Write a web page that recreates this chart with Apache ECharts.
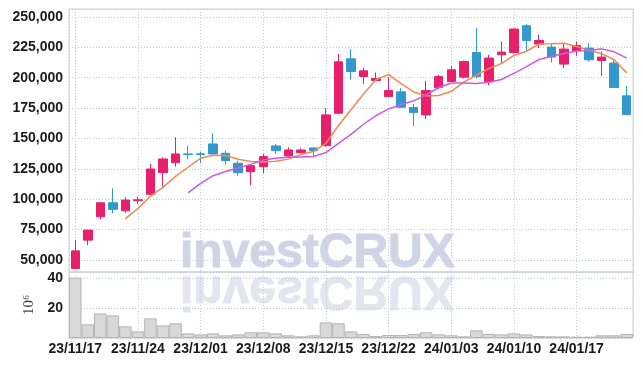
<!DOCTYPE html>
<html><head><meta charset="utf-8">
<script src="https://cdn.jsdelivr.net/npm/echarts@6/dist/echarts.min.js"></script>
<style>html,body{margin:0;padding:0;background:#fff}#c{width:643px;height:366px}</style>
</head><body><div id="c"></div>
<script>
const dates=['23/11/17','23/11/20','23/11/21','23/11/22','23/11/23','23/11/24','23/11/27','23/11/28','23/11/29','23/11/30','23/12/01','23/12/04','23/12/05','23/12/06','23/12/07','23/12/08','23/12/11','23/12/12','23/12/13','23/12/14','23/12/15','23/12/18','23/12/19','23/12/20','23/12/21','23/12/22','23/12/26','23/12/27','23/12/28','24/01/02','24/01/03','24/01/04','24/01/05','24/01/08','24/01/09','24/01/10','24/01/11','24/01/12','24/01/15','24/01/16','24/01/17','24/01/18','24/01/19','24/01/22','24/01/23'];
const openP=[42900,66250,85480,97030,90430,98800,103960,121780,130030,137200,137300,145460,137790,129540,122600,126730,143810,135560,138280,142160,144060,170790,215590,200990,197690,184490,188370,175410,169390,191910,196860,200490,220790,196620,218890,220790,242820,227720,225250,211220,222440,224420,214190,212050,185070];
const closeP=[57400,74500,97030,91580,99250,99500,124830,133080,137210,136800,136700,137210,131680,121780,127550,135020,139930,140510,140510,139930,169390,213120,205120,205690,199340,189440,175740,171280,189440,200990,206520,213370,200990,216170,221120,240100,230690,230690,217000,223600,226570,214770,217000,191910,169630];
const lowP=[42500,62130,83330,88280,88780,95950,103960,110230,126730,132840,129540,136500,128380,119300,111630,121290,137210,134490,137800,135560,143230,169960,198270,194970,197190,184000,175000,160310,165840,190500,196000,199340,199340,193890,212050,219720,221620,224420,212550,207920,218070,213370,201570,191500,169000];
const highP=[66250,74500,97030,108910,101480,101980,128960,134490,150990,144060,139100,154290,139930,131680,128710,137210,145460,142740,141910,143000,174920,219470,223600,208410,204290,200490,191420,178460,197440,202390,209820,214190,240920,218890,229870,240500,244220,235400,228550,227970,229870,228550,221620,214190,193320];
const volume=[40.3,9.1,16.4,15.1,7.8,4.4,13.1,8.4,9.8,3.1,2.4,3.1,1.8,2.4,3.8,3.8,3.1,1.8,1.1,1.8,10.4,9.8,4.4,2.7,1.3,2.0,2.0,2.7,3.8,2.4,1.8,1.1,5.1,2.7,2.4,3.1,2.4,1.3,1.1,1.1,0.9,0.9,1.8,1.8,2.7];
const ma5=[null,null,null,null,83950,92370,102440,109650,118770,126280,133720,136200,135920,132830,130980,130650,131190,132960,136700,139180,146050,160690,173610,186650,198530,202540,195070,188300,185050,185380,188790,196320,202260,207610,211630,218350,221810,227750,227920,228420,225710,222530,219790,214770,203980];
const ma10=[null,null,null,null,null,null,null,null,null,105120,113050,119320,122780,125800,128630,132190,133700,134440,134770,135080,138350,145940,153290,161680,168860,174300,177880,180960,185850,191960,195670,195690,195280,196330,198510,203570,209070,215010,217760,220030,222030,222170,223770,221350,216200];
const volumeUnit='10⁶';
const watermark='investCRUX';

const chart=echarts.init(document.getElementById('c'),null,{renderer:'canvas'});
const FONT="'Liberation Sans Narrow','Arial Narrow',sans-serif";
const dotted={show:true,lineStyle:{color:'#c6cbdc',type:[1,2],width:1}};
const candleData=dates.map((d,i)=>[i,openP[i],closeP[i],lowP[i],highP[i]]);
const volData=volume.map((v,i)=>[i,v]);
const toLine=a=>a.map((v,i)=>[i,v]).filter(p=>p[1]!=null);
const xBase={type:'value',min:-0.5,max:44.5,splitNumber:9,minInterval:5,maxInterval:5,
  axisLine:{show:false},axisTick:{show:false},splitLine:dotted};
const wmStyle={text:watermark,x:0,y:-18,verticalAlign:'middle',align:'left',
  font:"bold 48px 'Liberation Sans',Arial,sans-serif",fill:'#cfd5e6',stroke:'#cfd5e6',lineWidth:1};
const labelStyle={color:'#1a1a1a',fontFamily:FONT,fontSize:14,fontWeight:'bold'};
chart.setOption({
  animation:false,
  backgroundColor:'#fff',
  graphic:[
    {type:'text',x:180,y:272,z:-10,silent:true,style:Object.assign({},wmStyle)},
    {type:'text',x:180,y:272,scaleY:-1,z:-10,silent:true,style:Object.assign({},wmStyle,{fill:'#e3e6ef',stroke:'#e3e6ef'})}
  ],
  grid:[
    {left:69,right:10,top:9,height:263,show:true,borderColor:'#ccc',borderWidth:1},
    {left:69,right:10,top:272,height:66,show:true,borderColor:'#ccc',borderWidth:1}
  ],
  xAxis:[
    Object.assign({},xBase,{gridIndex:0,axisLabel:{show:false}}),
    Object.assign({},xBase,{gridIndex:1,axisLabel:Object.assign({show:true,showMinLabel:false,showMaxLabel:false,
      formatter:v=>Number.isInteger(v)?(dates[v]||''):'',margin:4},labelStyle)})
  ],
  yAxis:[
    {type:'value',gridIndex:0,min:40000,max:256600,splitNumber:9,minInterval:25000,maxInterval:25000,
     axisLine:{show:false},axisTick:{show:false},splitLine:dotted,
     axisLabel:Object.assign({showMinLabel:false,showMaxLabel:false,margin:6},labelStyle)},
    {type:'value',gridIndex:1,min:0,max:44,splitNumber:2,minInterval:20,maxInterval:20,
     name:volumeUnit,nameLocation:'middle',nameRotate:90,nameGap:31,
     nameTextStyle:{fontFamily:"'Liberation Serif',serif",fontSize:15,color:'#444'},
     axisLine:{show:false},axisTick:{show:false},splitLine:dotted,
     axisLabel:Object.assign({showMinLabel:false,showMaxLabel:false,margin:6},labelStyle)}
  ],
  series:[
    {type:'bar',xAxisIndex:1,yAxisIndex:1,data:volData,barWidth:12.5,
     itemStyle:{color:'#d8d8d8',borderColor:'#b4b4b4',borderWidth:1},z:2},
    {type:'candlestick',xAxisIndex:0,yAxisIndex:0,data:candleData,encode:{x:0,y:[1,2,3,4]},barWidth:9,
     itemStyle:{color:'#e8206b',color0:'#3399cc',borderColor:'#e8206b',borderColor0:'#3399cc',borderWidth:1},z:3},
    {type:'line',xAxisIndex:0,yAxisIndex:0,data:toLine(ma5),showSymbol:false,
     lineStyle:{color:'#f08a50',width:1.5},z:4},
    {type:'line',xAxisIndex:0,yAxisIndex:0,data:toLine(ma10),showSymbol:false,
     lineStyle:{color:'#cc5ae8',width:1.5},z:4}
  ]
});
</script></body></html>
